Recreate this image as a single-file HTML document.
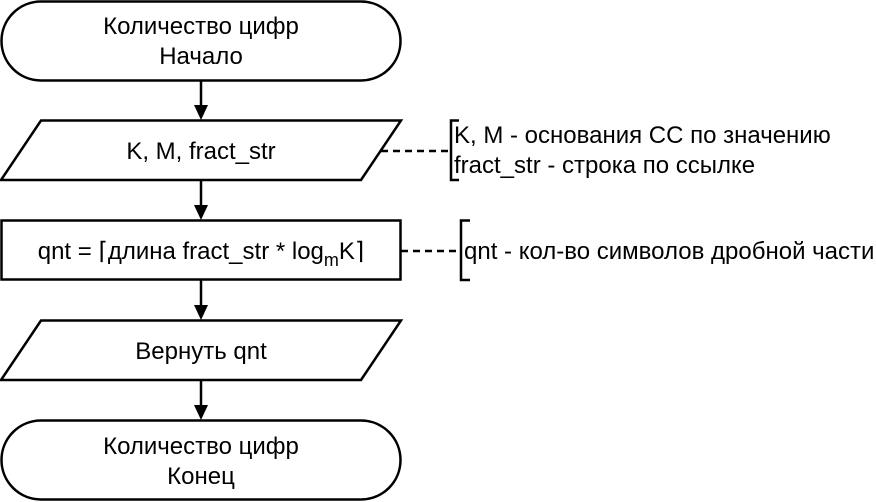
<!DOCTYPE html>
<html><head><style>body{margin:0;background:#fff}svg{display:block}text{font-family:"Liberation Sans",sans-serif;font-size:24px;fill:#000}</style></head><body>
<svg width="876" height="502" viewBox="0 0 876 502">
<g fill="none" stroke="#000" stroke-width="2.5">
<rect x="1.5" y="1.5" width="399" height="79" rx="39.5"/>
<polygon points="41,120.5 401,120.5 361,180 1,180"/>
<rect x="1.5" y="220.5" width="399" height="59"/>
<polygon points="41,320.5 401,320.5 361,380 1,380"/>
<rect x="1.5" y="420.5" width="399" height="79" rx="39.5"/>
<line x1="201" y1="81" x2="201" y2="110"/>
<line x1="201" y1="180" x2="201" y2="210"/>
<line x1="201" y1="280" x2="201" y2="310"/>
<line x1="201" y1="380" x2="201" y2="410"/>
<line x1="381" y1="151" x2="451" y2="151" stroke-dasharray="7,5"/>
<line x1="401" y1="251" x2="461" y2="251" stroke-dasharray="7,5"/>
<polyline points="459,120.5 451,120.5 451,180 459,180"/>
<polyline points="470,220.5 461,220.5 461,280 470,280"/>
</g>
<g fill="#000">
<polygon points="194,105 208,105 201,120"/>
<polygon points="194,205 208,205 201,220"/>
<polygon points="194,305 208,305 201,320"/>
<polygon points="194,405 208,405 201,420"/>
</g>
<text x="201" y="34" text-anchor="middle">Количество цифр</text>
<text x="201" y="64" text-anchor="middle">Начало</text>
<text x="201" y="159" text-anchor="middle">K, M, fract_str</text>
<text x="201" y="259" text-anchor="middle">qnt = ⌈длина fract_str * log<tspan dy="7" font-size="18">m</tspan><tspan dy="-7">K⌉</tspan></text>
<text x="201" y="359" text-anchor="middle">Вернуть qnt</text>
<text x="201" y="454" text-anchor="middle">Количество цифр</text>
<text x="201" y="484" text-anchor="middle">Конец</text>
<text x="454" y="143">K, M - основания СС по значению</text>
<text x="454" y="173">fract_str - строка по ссылке</text>
<text x="464" y="259">qnt - кол-во символов дробной части</text>
</svg>
</body></html>
